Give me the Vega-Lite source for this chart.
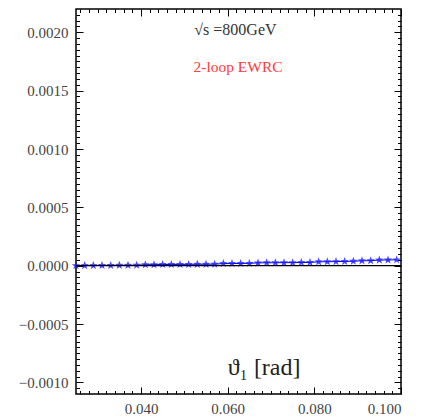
{
  "$schema": "https://vega.github.io/schema/vega-lite/v6.json",
  "width": 325,
  "height": 385,
  "autosize": {"type": "none"},
  "padding": {"left": 76, "top": 9, "right": 31, "bottom": 25},
  "background": "white",
  "config": {
    "view": {"stroke": "black", "strokeWidth": 1.5},
    "axis": {"domain": false, "grid": false, "ticks": true, "labelFont": "Liberation Serif", "labelFontSize": 15, "labelColor": "#444", "tickColor": "black", "tickWidth": 1, "tickOpacity": 1, "titleFont": "Liberation Serif"}
  },
  "data": {"values": [
    {"theta": 0.025, "dsigma": 0.000000},
    {"theta": 0.027, "dsigma": 0.000001},
    {"theta": 0.029, "dsigma": 0.000001},
    {"theta": 0.031, "dsigma": 0.000002},
    {"theta": 0.033, "dsigma": 0.000002},
    {"theta": 0.035, "dsigma": 0.000003},
    {"theta": 0.037, "dsigma": 0.000003},
    {"theta": 0.039, "dsigma": 0.000004},
    {"theta": 0.041, "dsigma": 0.000008},
    {"theta": 0.043, "dsigma": 0.000009},
    {"theta": 0.045, "dsigma": 0.000010},
    {"theta": 0.047, "dsigma": 0.000010},
    {"theta": 0.049, "dsigma": 0.000011},
    {"theta": 0.051, "dsigma": 0.000011},
    {"theta": 0.053, "dsigma": 0.000012},
    {"theta": 0.055, "dsigma": 0.000012},
    {"theta": 0.057, "dsigma": 0.000013},
    {"theta": 0.059, "dsigma": 0.000018},
    {"theta": 0.061, "dsigma": 0.000018},
    {"theta": 0.063, "dsigma": 0.000019},
    {"theta": 0.065, "dsigma": 0.000020},
    {"theta": 0.067, "dsigma": 0.000024},
    {"theta": 0.069, "dsigma": 0.000025},
    {"theta": 0.071, "dsigma": 0.000025},
    {"theta": 0.073, "dsigma": 0.000026},
    {"theta": 0.075, "dsigma": 0.000026},
    {"theta": 0.077, "dsigma": 0.000027},
    {"theta": 0.079, "dsigma": 0.000028},
    {"theta": 0.081, "dsigma": 0.000033},
    {"theta": 0.083, "dsigma": 0.000034},
    {"theta": 0.085, "dsigma": 0.000035},
    {"theta": 0.087, "dsigma": 0.000036},
    {"theta": 0.089, "dsigma": 0.000038},
    {"theta": 0.091, "dsigma": 0.000042},
    {"theta": 0.093, "dsigma": 0.000043},
    {"theta": 0.095, "dsigma": 0.000048},
    {"theta": 0.097, "dsigma": 0.000049},
    {"theta": 0.099, "dsigma": 0.000050}
  ]},
  "resolve": {"axis": {"x": "independent", "y": "independent"}},
  "layer": [
    {
      "mark": {"type": "line", "color": "#0000ff", "strokeWidth": 1},
      "encoding": {
        "x": {"field": "theta", "type": "quantitative", "scale": {"domain": [0.025, 0.1], "nice": false, "zero": false},
          "axis": {"orient": "bottom", "values": [0.04, 0.06, 0.08, 0.1], "format": ".3f", "offset": -7, "tickSize": 7, "labelPadding": 7, "title": null}},
        "y": {"field": "dsigma", "type": "quantitative", "scale": {"domain": [-0.0011, 0.0022], "nice": false, "zero": false},
          "axis": {"orient": "left", "values": [-0.001,-0.0005,0,0.0005,0.001,0.0015,0.002], "format": ".4f", "offset": -7, "tickSize": 7, "labelPadding": 8, "title": null}}
      }
    },
    {
      "mark": {"type": "point", "shape": "M0,-1L0.235,-0.324L0.951,-0.309L0.38,0.124L0.588,0.809L0,0.4L-0.588,0.809L-0.38,0.124L-0.951,-0.309L-0.235,-0.324Z", "filled": true, "color": "#1a1aff", "opacity": 0.8, "size": 80},
      "encoding": {
        "x": {"field": "theta", "type": "quantitative",
          "axis": {"orient": "top", "values": [0.04, 0.06, 0.08, 0.1], "labels": false, "offset": -7, "tickSize": 7, "title": null}},
        "y": {"field": "dsigma", "type": "quantitative",
          "axis": {"orient": "right", "values": [-0.001,-0.0005,0,0.0005,0.001,0.0015,0.002], "labels": false, "offset": -7, "tickSize": 7, "title": null}}
      }
    },
    {
      "mark": {"type": "point", "opacity": 0},
      "encoding": {
        "x": {"field": "theta", "type": "quantitative",
          "axis": {"orient": "bottom", "values": [0.026,0.028,0.030,0.032,0.034,0.036,0.038,0.042,0.044,0.046,0.048,0.050,0.052,0.054,0.056,0.058,0.062,0.064,0.066,0.068,0.070,0.072,0.074,0.076,0.078,0.082,0.084,0.086,0.088,0.090,0.092,0.094,0.096,0.098], "labels": false, "offset": -3.5, "tickSize": 3.5, "title": null}},
        "y": {"field": "dsigma", "type": "quantitative",
          "axis": {"orient": "left", "values": [-0.00105,-0.00095,-0.0009,-0.00085,-0.0008,-0.00075,-0.0007,-0.00065,-0.0006,-0.00055,-0.00045,-0.0004,-0.00035,-0.0003,-0.00025,-0.0002,-0.00015,-0.0001,-0.00005,0.00005,0.0001,0.00015,0.0002,0.00025,0.0003,0.00035,0.0004,0.00045,0.00055,0.0006,0.00065,0.0007,0.00075,0.0008,0.00085,0.0009,0.00095,0.00105,0.0011,0.00115,0.0012,0.00125,0.0013,0.00135,0.0014,0.00145,0.00155,0.0016,0.00165,0.0017,0.00175,0.0018,0.00185,0.0019,0.00195,0.00205,0.0021,0.00215], "labels": false, "offset": -3.5, "tickSize": 3.5, "title": null}}
      }
    },
    {
      "mark": {"type": "point", "opacity": 0},
      "encoding": {
        "x": {"field": "theta", "type": "quantitative",
          "axis": {"orient": "top", "values": [0.026,0.028,0.030,0.032,0.034,0.036,0.038,0.042,0.044,0.046,0.048,0.050,0.052,0.054,0.056,0.058,0.062,0.064,0.066,0.068,0.070,0.072,0.074,0.076,0.078,0.082,0.084,0.086,0.088,0.090,0.092,0.094,0.096,0.098], "labels": false, "offset": -3.5, "tickSize": 3.5, "title": null}},
        "y": {"field": "dsigma", "type": "quantitative",
          "axis": {"orient": "right", "values": [-0.00105,-0.00095,-0.0009,-0.00085,-0.0008,-0.00075,-0.0007,-0.00065,-0.0006,-0.00055,-0.00045,-0.0004,-0.00035,-0.0003,-0.00025,-0.0002,-0.00015,-0.0001,-0.00005,0.00005,0.0001,0.00015,0.0002,0.00025,0.0003,0.00035,0.0004,0.00045,0.00055,0.0006,0.00065,0.0007,0.00075,0.0008,0.00085,0.0009,0.00095,0.00105,0.0011,0.00115,0.0012,0.00125,0.0013,0.00135,0.0014,0.00145,0.00155,0.0016,0.00165,0.0017,0.00175,0.0018,0.00185,0.0019,0.00195,0.00205,0.0021,0.00215], "labels": false, "offset": -3.5, "tickSize": 3.5, "title": null}}
      }
    },
    {
      "data": {"values": [{"level": 0}]},
      "mark": {"type": "rule", "color": "black", "strokeWidth": 1.2},
      "encoding": {
        "y": {"field": "level", "type": "quantitative", "axis": null}
      }
    },
    {
      "data": {"values": [{"label": "√s =800GeV", "lx": 0.0618, "ly": 0.00202}]},
      "mark": {"type": "text", "font": "Liberation Serif", "fontSize": 16, "color": "#333", "align": "center", "baseline": "middle"},
      "encoding": {
        "text": {"field": "label"},
        "x": {"field": "lx", "type": "quantitative", "axis": null},
        "y": {"field": "ly", "type": "quantitative", "axis": null}
      }
    },
    {
      "data": {"values": [{"label": "2-loop EWRC", "lx": 0.0624, "ly": 0.001706}]},
      "mark": {"type": "text", "font": "Liberation Serif", "fontSize": 15.5, "color": "#ff3b3b", "align": "center", "baseline": "middle"},
      "encoding": {
        "text": {"field": "label"},
        "x": {"field": "lx", "type": "quantitative", "axis": null},
        "y": {"field": "ly", "type": "quantitative", "axis": null}
      }
    },
    {
      "data": {"values": [{"label": "ϑ₁ [rad]", "lx": 0.0684, "ly": -0.00088}]},
      "mark": {"type": "text", "font": "Liberation Serif", "fontSize": 24, "color": "#222", "align": "center", "baseline": "middle"},
      "encoding": {
        "text": {"field": "label"},
        "x": {"field": "lx", "type": "quantitative", "axis": null},
        "y": {"field": "ly", "type": "quantitative", "axis": null}
      }
    }
  ]
}
